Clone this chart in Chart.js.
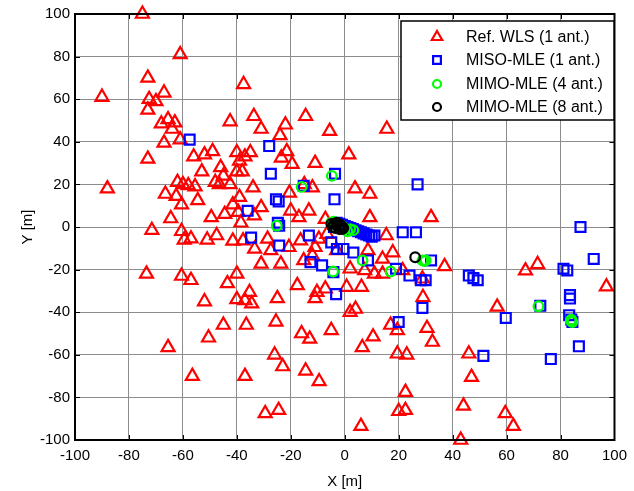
<!DOCTYPE html>
<html>
<head>
<meta charset="utf-8">
<script src="https://cdn.jsdelivr.net/npm/chart.js@4.4.1/dist/chart.umd.min.js"></script>
<style>
  html, body { margin: 0; padding: 0; background: #fff; }
  #wrap { width: 634px; height: 491px; }
</style>
</head>
<body>
<div id="wrap"><canvas id="chartPos"></canvas></div>
<script>
// ── position estimates, x/y in metres ──
const AXIS_TICKS = [-100, -80, -60, -40, -20, 0, 20, 40, 60, 80, 100];
const SERIES_NAMES = ['Ref. WLS (1 ant.)', 'MISO-MLE (1 ant.)', 'MIMO-MLE (4 ant.)', 'MIMO-MLE (8 ant.)'];

// Ref. WLS (1 ant.)
const wlsX = [
  -75, -90, -61, -73, -72.5, -70, -73, -67, -68, -65.5, -63, -64, -67, -61, -42.5, -37.5,
  -56, -52, -49, -40, -39, -37, -73,
  -33.7, -31, -22, -24, -14.5, -5.6, 15.6, -21.5, -35, 1.5,
  -46, -53, -45, -62, -60, -58, -55.5, -48, -46.5, -42.5, -38, -40, -88, -66.5, -62.5, -60.5, -54.5,
  -64.5, -49.5, -44.5, -41.5, -39, -39.5, -38.5, -71.5, -60.5, -59.5, -57, -51, -47.5, -41.5,
  -73.5, -60.5, -57, -43.5, -40, -52, -40,
  -45, -36.5, -50.5, -65.5, -56.5, -37,
  -37, -34.5, -25, -11, -25.5, -16, -13, -5, 2, 4, 6.5, 10.5, 17, 19.5, 29, 30.5, 32.5,
  -26, -23, -14.5, -9.5, 19.5, 23, 22.5, 20, 22.5, -29.5, -24.5, 6,
  56.5, 46, 47, 44, 59.5, 62.5, 43,
  32, 37, 67, 71.5, 97,
  -11, -19.5, -23.5, 3.8, 9.3, 9.3, -15, -12, -20.5, -34, -33.5, -31, -20, -17, -13.3, -7.2,
  15.4, -28.6, -37.7, -16.4, -9.6, -6.6, -31, -23.7, -15.2, -11, -3, -12, 2, 7.4, 14, 11, 14,
  -35.3, -10.3, -7.2, 0.7, 6.2, 21.5, 28.8, 17.8, 8.6, -33.4, -27.4, -20.7, -17.6
];
const wlsY = [
  100, 61, 81, 70, 60, 59, 55, 63, 48.5, 50.5, 49, 46, 39.5, 41, 49.5, 67,
  33, 34, 35.5, 35, 31, 33, 32,
  52, 46, 48, 43, 52, 45, 46, 35.5, 35, 34,
  28, 26, 24, 21, 20, 19.5, 19, 21, 20, 20, 26, 26, 18, 15.5, 14.5, 10.5, 12.5,
  4, 4.5, 6, 10.5, 14, 7, 2, -1.5, -2, -6, -5.5, -6, -4, -6.5,
  -22, -23, -25, -26.5, -22, -35, -34,
  -46, -46, -52, -56.5, -70, -70,
  -34.5, -36, -33.5, -33.5, -44.5, -50, -52.5, -48.5, -40, -38.5, -56.5, -51.5, -46, -48.5, -33, -47.5, -54,
  -60, -65.5, -67.5, -72.5, -59.5, -60, -77.5, -86.5, -86, -87.5, -86, -93.5,
  -37.5, -59.5, -70.5, -84, -87.5, -93.5, -100,
  4.5, -18.5, -20.5, -17.5, -28,
  30, 29.5, 32.5, 18, 15.5, 4.5, 20, 18.5, 16, 18.5, 5.3, 9.2, 7.6, 4.5, 7.6, 3.7,
  -4, -5.6, -6.4, -6.4, -5.6, -3.3, -17.3, -17.3, -15.7, -9.5, -11, -13.4, -19.6, -20.4, -15, -22, -22,
  -30.6, -30.6, -29, -28.2, -28.2, -20.4, -24.3, -12, -11, -10.3, -11, -9.5, -27.4
];

// MISO-MLE (1 ant.)
const misoX = [
  -57.5, -28, -27.4, -3.6, -15.2, -25.5, -24.5, -3.8, 27, -36, -24.3, -24.8, -34.7, -24.3,
  -13.3, -5, -2.9, -0.5, 3.2, 8.6, -12.7, -8.4, -4.2, 21.5, 26.4, 19, 24, 28.2, 30, -3.2,
  32, 87.4, 92.3, 81.1, 82.5, 46, 47.7, 49.3, 83.5, 83.5, 20, 28.8, 59.7, 51.4, 76.4, 86.8,
  72.5, 83.2, 84, 84.4,
  -4, -3, -2, -1, 0, 1, 2, 3, 4, 5, 6, 7, 8, 9, 10, 11
];
const misoY = [
  41, 38, 25, 25, 19.3, 13, 12, 13, 20, 7.6, 0.6, 2, -5, -8.7,
  -4, -7.2, -10.3, -10.3, -12, -15.7, -16.5, -18, -21.2, -2.5, -2.5, -19.6, -22.8, -25, -25, -31.5,
  -15.7, 0, -15, -19.6, -20.4, -22.8, -24, -25, -32, -33.6, -44.6, -38, -42.7, -60.5, -62, -56,
  -37, -41.4, -43.5, -44.6,
  0, 2, 1.5, 1, 0.5, 0, -0.5, -1, -1.5, -2, -2.5, -3, -3.5, -4, -4.5, -4
];

// MIMO-MLE (4 ant.)
const mimo4X = [-4.8, -16, -25.2, -4.3, 6.6, 17, 3.2, 28.8, 30, 29.5, 71.8, 84.4, 84, 83.8,
  -5, -3, -2, 0, 1, -4, 2, -1];
const mimo4Y = [24, 18.8, 0.6, -20.9, -15.7, -20.9, -1.5, -15.7, -15.7, -16, -37.2, -44.6, -43.5, -44,
  2, 1, 0, -1, -2, 2.5, -1, 0.5];

// MIMO-MLE (8 ant.)
const mimo8X = [-5, -4, -3, -2, -1, -0.5, -4.5, -3.5, -2, -1, -3, -1.5, 26.1];
const mimo8Y = [1.5, 1.5, 1, 0.5, 0, -0.5, 0, -0.5, -1, -1, 2, 1, -14.2];

const toPts = (xs, ys) => xs.map((x, i) => ({ x, y: ys[i] }));

const STYLES = [
  { color: '#ff0000', pointStyle: 'triangle', radius: 7.5, legendRadius: 6 },
  { color: '#0000ff', pointStyle: 'rect', radius: 7, legendRadius: 5.5 },
  { color: '#00ff00', pointStyle: 'circle', radius: 4.8, legendRadius: 4 },
  { color: '#000000', pointStyle: 'circle', radius: 4.8, legendRadius: 4 }
];
const SERIES = [toPts(wlsX, wlsY), toPts(misoX, misoY), toPts(mimo4X, mimo4Y), toPts(mimo8X, mimo8Y)];

const FONT = "'Liberation Sans', Arial, sans-serif";

// frame, inward ticks and legend drawn like the original figure
const framePlugin = {
  id: 'frame',
  afterDraw(chart) {
    const { ctx, chartArea: a, scales } = chart;
    ctx.save();
    ctx.strokeStyle = '#000';
    ctx.lineWidth = 1;
    const tl = 5;
    AXIS_TICKS.forEach(v => {
      const px = Math.round(scales.x.getPixelForValue(v)) + 0.5;
      const py = Math.round(scales.y.getPixelForValue(v)) + 0.5;
      ctx.beginPath();
      ctx.moveTo(px, a.bottom); ctx.lineTo(px, a.bottom - tl);
      ctx.moveTo(px, a.top); ctx.lineTo(px, a.top + tl);
      ctx.moveTo(a.left, py); ctx.lineTo(a.left + tl, py);
      ctx.moveTo(a.right, py); ctx.lineTo(a.right - tl, py);
      ctx.stroke();
    });
    ctx.lineWidth = 2;
    ctx.strokeRect(a.left, a.top, a.right - a.left, a.bottom - a.top);

    // legend
    const lx = 401, ly = 21, lw = 213, lh = 99;
    ctx.fillStyle = '#fff';
    ctx.fillRect(lx, ly, lw, lh);
    ctx.lineWidth = 1.5;
    ctx.strokeStyle = '#000';
    ctx.strokeRect(lx, ly, lw, lh);
    const rows = [37, 60, 84, 107];
    ctx.font = '16px ' + FONT;
    ctx.textBaseline = 'middle';
    ctx.textAlign = 'left';
    SERIES_NAMES.forEach((name, i) => {
      const s = STYLES[i];
      ctx.strokeStyle = s.color;
      ctx.fillStyle = 'rgba(0,0,0,0)';
      ctx.lineWidth = 2.2;
      Chart.helpers.drawPoint(ctx, { pointStyle: s.pointStyle, radius: s.legendRadius, rotation: 0, borderWidth: 2.2 }, 437, rows[i]);
      ctx.fillStyle = '#000';
      ctx.fillText(name, 466, rows[i] + 1);
    });
    ctx.restore();
  }
};

new Chart(document.getElementById('chartPos'), {
  type: 'scatter',
  data: {
    datasets: SERIES.map((pts, i) => ({
      label: SERIES_NAMES[i],
      data: pts,
      pointStyle: STYLES[i].pointStyle,
      pointRadius: STYLES[i].radius,
      pointHoverRadius: STYLES[i].radius,
      borderColor: STYLES[i].color,
      backgroundColor: 'rgba(0,0,0,0)',
      pointBorderWidth: 2.2,
      order: 4 - i,
      clip: false
    }))
  },
  options: {
    responsive: true, maintainAspectRatio: false, animation: false,
    layout: { padding: { top: 12, right: 13, left: 0, bottom: 0 } },
    plugins: { legend: { display: false }, tooltip: { enabled: false } },
    scales: {
      x: {
        type: 'linear', min: -100, max: 100,
        afterFit: s => { s.height = 51; },
        afterBuildTicks: s => { s.ticks = AXIS_TICKS.map(v => ({ value: v })); },
        ticks: { color: '#000', font: { family: FONT, size: 15 }, padding: 7, maxRotation: 0 },
        grid: { color: '#8c8c8c', lineWidth: 1, drawTicks: false },
        border: { display: false },
        title: { display: true, text: 'X [m]', color: '#000', font: { family: FONT, size: 15 }, padding: { top: 2, bottom: 0 } }
      },
      y: {
        type: 'linear', min: -100, max: 100,
        afterFit: s => { s.width = 75; },
        afterBuildTicks: s => { s.ticks = AXIS_TICKS.map(v => ({ value: v })); },
        ticks: { color: '#000', font: { family: FONT, size: 15 }, padding: 5 },
        grid: { color: '#8c8c8c', lineWidth: 1, drawTicks: false },
        border: { display: false },
        title: { display: true, text: 'Y [m]', color: '#000', font: { family: FONT, size: 15 }, padding: { top: 19, bottom: 0 } }
      }
    }
  },
  plugins: [framePlugin]
});
</script>
</body>
</html>
